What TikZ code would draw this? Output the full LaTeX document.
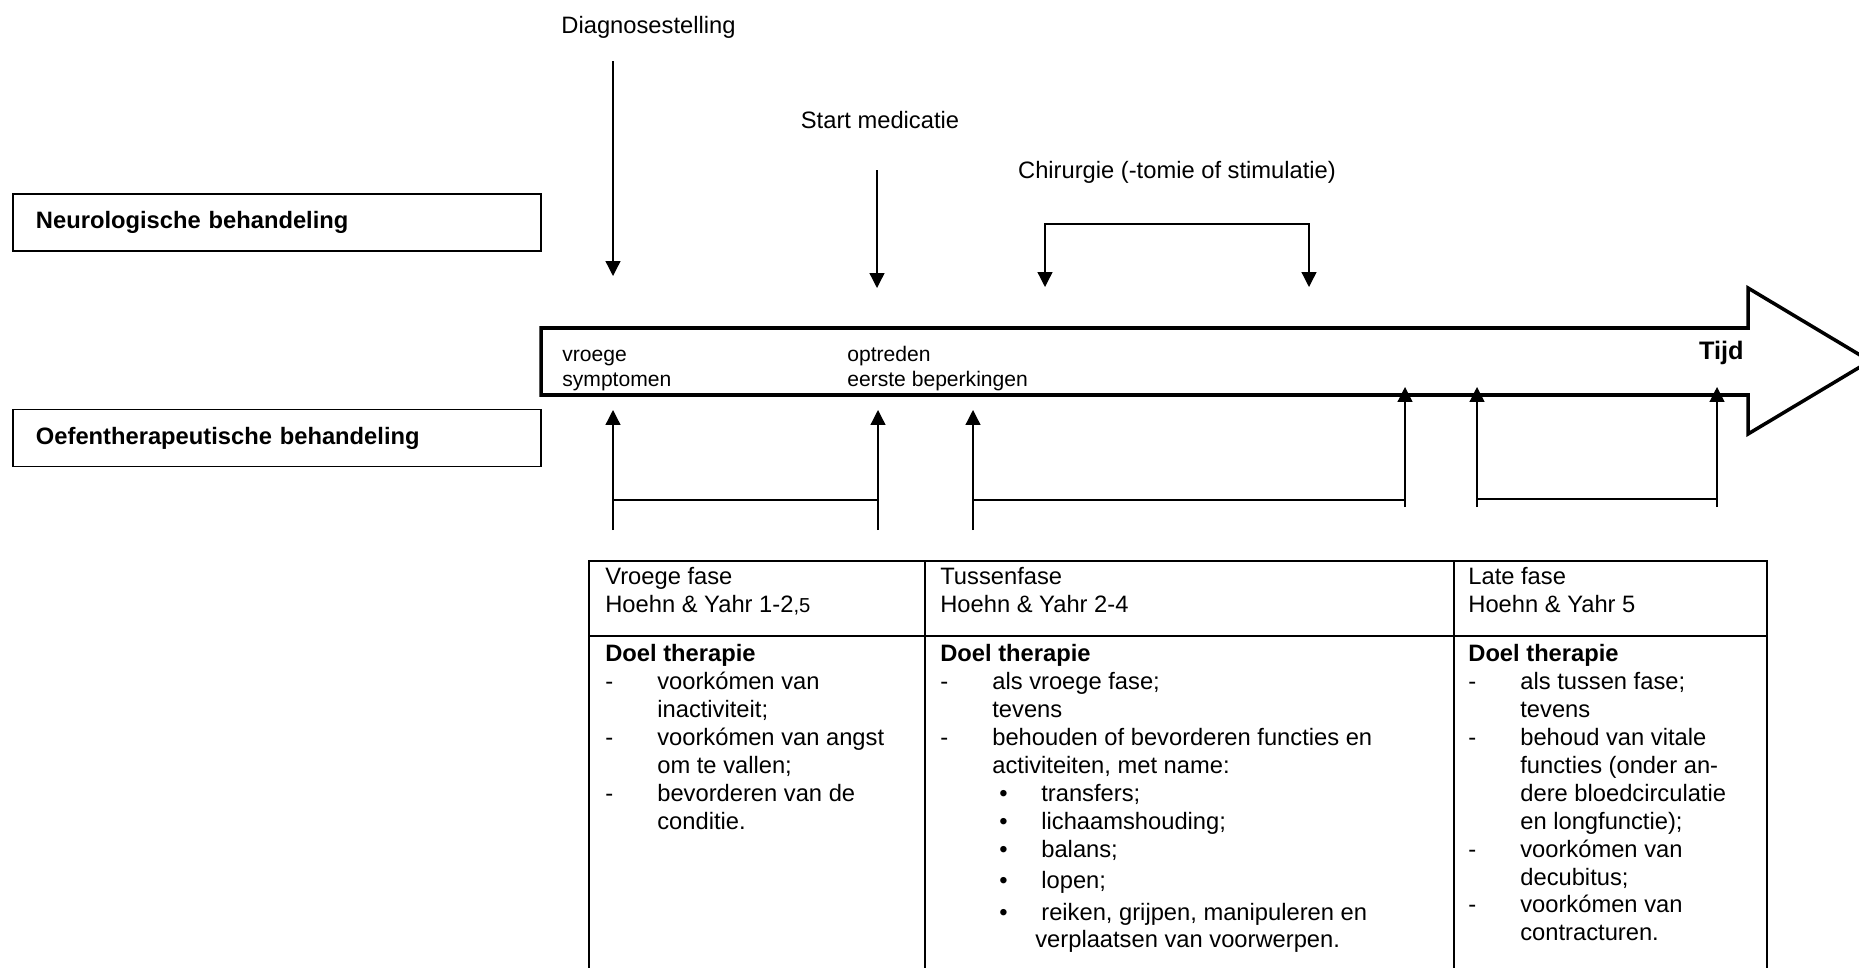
\documentclass[tikz,border=0pt]{standalone}
\usepackage{fontspec}
\setmainfont{Liberation Sans}
\usetikzlibrary{arrows.meta}

% regels in de tabel
\newcommand{\dashln}[1]{\makebox[1.04cm][l]{-}#1}
\newcommand{\indln}[1]{\hspace*{1.04cm}#1}
\newcommand{\bulln}[1]{\hspace*{1.18cm}\makebox[0.84cm][l]{\textbullet}#1}
\newcommand{\bulind}[1]{\hspace*{1.90cm}#1}

\begin{document}
\begin{tikzpicture}[
  lbl/.style={font=\fontsize{13.5}{15.9}\selectfont, inner sep=0pt},
  small/.style={font=\fontsize{12}{14.5}\selectfont, inner sep=0pt, anchor=base west},
  cell/.style={lbl, anchor=base west},
  sidebox/.style={
    rectangle, draw, line width=0.85pt,
    minimum width=10.56cm, minimum height=1.14cm,
    text width=9.64cm, inner xsep=0.46cm, align=left,
    font=\fontsize{13.5}{15.9}\selectfont\bfseries
  },
  conn/.style={-{Triangle[length=8.5pt,width=8.5pt]}, line width=0.75pt},
  twoconn/.style={{Triangle[length=8.5pt,width=8.5pt]}-{Triangle[length=8.5pt,width=8.5pt]}, line width=0.75pt},
  thinline/.style={line width=0.75pt},
  timeline/.style={line width=2pt, line join=miter},
  tabline/.style={line width=1.1pt}
]
\useasboundingbox (0,0) rectangle (37.18,-19.34);

\node[sidebox] (neuro) at (5.54,-4.45) {Neurologische behandeling};
\node[sidebox] (oefen) at (5.54,-8.76) {Oefentherapeutische behandeling};

\node[lbl, anchor=base] (diag) at (12.97,-0.66) {Diagnosestelling};
\node[lbl, anchor=base] (med)  at (17.60,-2.57) {Start medicatie};
\node[lbl, anchor=base] (chir) at (23.54,-3.56) {Chirurgie (-tomie of stimulatie)};

% tijdpijl
\draw[timeline] (10.82,-6.56) -- (34.96,-6.56) -- (34.96,-5.76) -- (37.40,-7.22)
  -- (34.96,-8.68) -- (34.96,-7.90) -- (10.82,-7.90) -- cycle;

\node[small] (vroeg) at (11.24,-7.22)
  {\begin{tabular}[t]{@{}l@{}}vroege\\symptomen\end{tabular}};
\node[small] (optr) at (16.94,-7.22)
  {\begin{tabular}[t]{@{}l@{}}optreden\\eerste beperkingen\end{tabular}};
\node[font=\fontsize{14.4}{17}\selectfont\bfseries, inner sep=0pt, anchor=base east] (tijd)
  at (34.88,-7.18) {Tijd};

% neurologische behandeling
\coordinate (diagS) at (12.26,-1.22);
\coordinate (diagT) at (12.26,-5.52);
\coordinate (medS) at (17.54,-3.40);
\coordinate (medT) at (17.54,-5.76);
\coordinate (chirL) at (20.90,-5.74);
\coordinate (chirR) at (26.18,-5.74);

\draw[conn] (diagS) -- (diagT);
\draw[conn] (medS) -- (medT);
\draw[twoconn] (chirL) -- ++(0,1.26) -| (chirR);

% oefentherapeutische behandeling
\coordinate (f1) at (12.26,-10.60); \coordinate (t1) at (12.26,-8.20); \coordinate (j1) at (12.26,-10.00);
\coordinate (f2) at (17.56,-10.60); \coordinate (t2) at (17.56,-8.20); \coordinate (j2) at (17.56,-10.00);
\coordinate (f3) at (19.46,-10.60); \coordinate (t3) at (19.46,-8.20); \coordinate (j3) at (19.46,-10.00);
\coordinate (f4) at (28.10,-10.14); \coordinate (t4) at (28.10,-7.74); \coordinate (j4) at (28.10,-10.00);
\coordinate (f5) at (29.54,-10.14); \coordinate (t5) at (29.54,-7.74); \coordinate (j5) at (29.54,-9.98);
\coordinate (f6) at (34.34,-10.14); \coordinate (t6) at (34.34,-7.74); \coordinate (j6) at (34.34,-9.98);

\draw[conn] (f1) -- (t1);
\draw[conn] (f2) -- (t2);
\draw[conn] (f3) -- (t3);
\draw[conn] (f4) -- (t4);
\draw[conn] (f5) -- (t5);
\draw[conn] (f6) -- (t6);
\draw[thinline] (j1) -- (j2);
\draw[thinline] (j3) -- (j4);
\draw[thinline] (j5) -- (j6);

% fasentabel
\draw[tabline] (11.78,-19.6) |- (35.34,-11.22) -- (35.34,-19.6);
\draw[tabline] (18.50,-11.22) -- (18.50,-19.6);
\draw[tabline] (29.08,-11.22) -- (29.08,-19.6);
\draw[tabline] (11.78,-12.72) -- (35.34,-12.72);

\node[cell] (h1) at (12.10,-11.69) {\begin{tabular}[t]{@{}l@{}}
  Vroege fase\\Hoehn \& Yahr 1-2{\fontsize{11.5}{15.9}\selectfont,5}\end{tabular}};
\node[cell] (h2) at (18.80,-11.69) {\begin{tabular}[t]{@{}l@{}}
  Tussenfase\\Hoehn \& Yahr 2-4\end{tabular}};
\node[cell] (h3) at (29.36,-11.69) {\begin{tabular}[t]{@{}l@{}}
  Late fase\\Hoehn \& Yahr 5\end{tabular}};

\node[cell] (b1) at (12.10,-13.23) {\begin{tabular}[t]{@{}l@{}}
  \textbf{Doel therapie}\\
  \dashln{voorkómen van}\\
  \indln{inactiviteit;}\\
  \dashln{voorkómen van angst}\\
  \indln{om te vallen;}\\
  \dashln{bevorderen van de}\\
  \indln{conditie.}
\end{tabular}};
\node[cell] (b2) at (18.80,-13.23) {\begin{tabular}[t]{@{}l@{}}
  \textbf{Doel therapie}\\
  \dashln{als vroege fase;}\\
  \indln{tevens}\\
  \dashln{behouden of bevorderen functies en}\\
  \indln{activiteiten, met name:}\\
  \bulln{transfers;}\\
  \bulln{lichaamshouding;}\\
  \bulln{balans;}\\[2pt]
  \bulln{lopen;}\\[2pt]
  \bulln{reiken, grijpen, manipuleren en}\\
  \bulind{verplaatsen van voorwerpen.}
\end{tabular}};
\node[cell] (b3) at (29.36,-13.23) {\begin{tabular}[t]{@{}l@{}}
  \textbf{Doel therapie}\\
  \dashln{als tussen fase;}\\
  \indln{tevens}\\
  \dashln{behoud van vitale}\\
  \indln{functies (onder an-}\\
  \indln{dere bloedcirculatie}\\
  \indln{en longfunctie);}\\
  \dashln{voorkómen van}\\
  \indln{decubitus;}\\
  \dashln{voorkómen van}\\
  \indln{contracturen.}
\end{tabular}};
\end{tikzpicture}
\end{document}
